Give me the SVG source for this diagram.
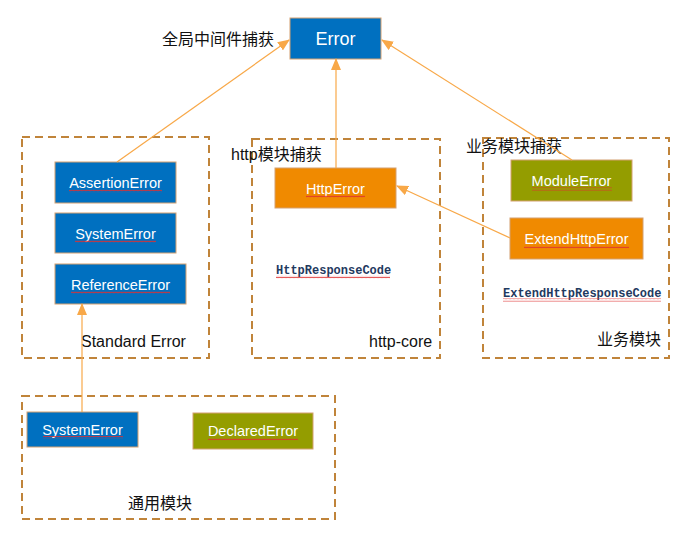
<svg xmlns="http://www.w3.org/2000/svg" width="697" height="537" viewBox="0 0 697 537">
<style>
.grp{fill:none;stroke:#C0843A;stroke-width:2;stroke-dasharray:8 5}
.box{stroke:#D4A070;stroke-width:1}
.blue{fill:#0070C0}
.orange{fill:#F08A00}
.olive{fill:#949D00}
.lbl{font-family:"Liberation Sans",Arial,sans-serif;font-size:14.5px;fill:#FFFFFF;text-anchor:middle}
.txt{font-family:"Liberation Sans","Noto Sans CJK SC",sans-serif;font-size:16px;fill:#111111}
.code{font-family:"Liberation Mono","Courier New",monospace;font-size:12px;font-weight:bold;fill:#1F3A5F}
.conn{stroke:#F8A848;stroke-width:1.2;fill:none}
.wave{fill:url(#wave)}
</style>
<defs>
<marker id="arr" markerUnits="userSpaceOnUse" markerWidth="12" markerHeight="10" refX="11" refY="5" orient="auto">
<path d="M0,0 L12,5 L0,10 Z" fill="#F8A848"/>
</marker>
<pattern id="wave" patternUnits="userSpaceOnUse" width="4" height="3" x="0" y="0">
<path d="M0,2.2 L1,0.8 L2,2.2 L3,0.8 L4,2.2" fill="none" stroke="#E03030" stroke-width="0.8"/>
</pattern>
</defs>

<g id="group-standard">
<rect class="grp" x="22" y="137" width="187" height="221"/>
<text class="txt" x="81" y="347">Standard Error</text>
</g>
<g id="group-httpcore">
<rect class="grp" x="252" y="139" width="188" height="219"/>
<text class="txt" x="369" y="347">http-core</text>
</g>
<g id="group-business">
<rect class="grp" x="483" y="138" width="186" height="220"/>
<text class="txt" x="597" y="345">业务模块</text>
</g>
<g id="group-common">
<rect class="grp" x="22" y="396" width="313" height="123"/>
<text class="txt" x="128" y="509">通用模块</text>
</g>

<g id="label-global"><text class="txt" x="162" y="45">全局中间件捕获</text></g>
<g id="label-http"><text class="txt" x="231" y="160">http模块捕获</text></g>
<g id="label-business"><text class="txt" x="466" y="152">业务模块捕获</text></g>

<g id="node-error">
<rect class="box blue" x="290" y="18" width="91" height="41"/>
<text class="lbl" x="335.5" y="45" style="font-size:18px">Error</text>
</g>
<g id="node-assertion">
<rect class="box blue" x="55" y="162" width="121" height="41"/>
<text class="lbl" x="115.5" y="188">AssertionError</text>
<rect class="wave" x="69" y="189.5" width="93" height="3"/>
</g>
<g id="node-system-std">
<rect class="box blue" x="55" y="213" width="121" height="40"/>
<text class="lbl" x="115.5" y="238.5">SystemError</text>
<rect class="wave" x="75" y="240" width="81" height="3"/>
</g>
<g id="node-reference">
<rect class="box blue" x="55" y="264" width="131" height="40"/>
<text class="lbl" x="120.5" y="289.5">ReferenceError</text>
<rect class="wave" x="71" y="291" width="99" height="3"/>
</g>
<g id="node-httperror">
<rect class="box orange" x="275" y="168" width="121" height="40"/>
<text class="lbl" x="335.5" y="193.5">HttpError</text>
<rect class="wave" x="306" y="195" width="59" height="3"/>
</g>
<g id="node-httpcode">
<text class="code" x="276" y="274">HttpResponseCode</text>
<rect class="wave" x="276" y="275.5" width="114" height="3"/>
</g>
<g id="node-module">
<rect class="box olive" x="511" y="160" width="121" height="41"/>
<text class="lbl" x="571.5" y="186">ModuleError</text>
<rect class="wave" x="532" y="187.5" width="80" height="3"/>
</g>
<g id="node-extendhttp">
<rect class="box orange" x="510" y="218" width="133" height="41"/>
<text class="lbl" x="576.5" y="244">ExtendHttpError</text>
<rect class="wave" x="524" y="245.5" width="105" height="3"/>
</g>
<g id="node-extendcode">
<text class="code" x="503" y="297">ExtendHttpResponseCode</text>
<rect class="wave" x="503" y="298.5" width="158" height="3"/>
</g>
<g id="node-system-common">
<rect class="box blue" x="27" y="412" width="111" height="35"/>
<text class="lbl" x="82.5" y="434.5">SystemError</text>
<rect class="wave" x="43" y="436" width="80" height="3"/>
</g>
<g id="node-declared">
<rect class="box olive" x="193" y="413" width="120" height="36"/>
<text class="lbl" x="253" y="436">DeclaredError</text>
<rect class="wave" x="208" y="437.5" width="90" height="3"/>
</g>

<g id="connectors">
<line class="conn" x1="117" y1="162" x2="289" y2="40" marker-end="url(#arr)"/>
<line class="conn" x1="336" y1="168" x2="336" y2="59" marker-end="url(#arr)"/>
<line class="conn" x1="572" y1="160" x2="382" y2="40" marker-end="url(#arr)"/>
<line class="conn" x1="510" y1="238" x2="397" y2="186" marker-end="url(#arr)"/>
<line class="conn" x1="82" y1="412" x2="82" y2="304" marker-end="url(#arr)"/>
</g>
</svg>
